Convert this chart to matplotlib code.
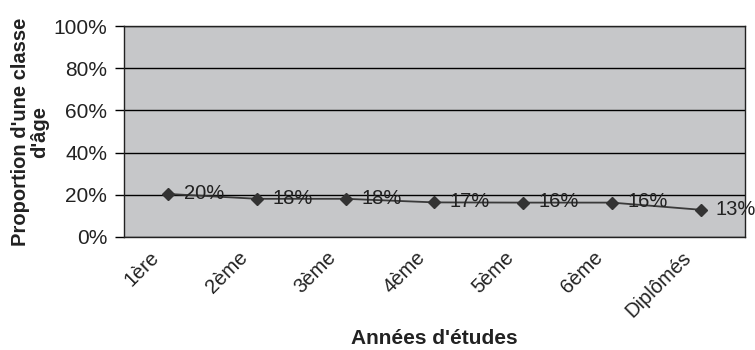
import matplotlib.pyplot as plt
from matplotlib.transforms import ScaledTranslation

plt.rcParams['font.family'] = ['Liberation Sans', 'DejaVu Sans']

categories = ["1ère", "2ème", "3ème", "4ème", "5ème", "6ème", "Diplômés"]
values = [20.4, 18.1, 18.1, 16.4, 16.3, 16.3, 12.9]
labels = ["20%", "18%", "18%", "17%", "16%", "16%", "13%"]
yticks = [0, 20, 40, 60, 80, 100]

fig = plt.figure(figsize=(7.55, 3.5), dpi=100)
ax = fig.add_axes([124 / 755, 113 / 350, 621 / 755, 211 / 350])
ax.set_facecolor('#c6c7c9')

x = list(range(len(categories)))
ax.plot(x, values, color='#3a3a3a', linewidth=1.3, marker='D', markersize=6.5,
        markerfacecolor='#333333', markeredgecolor='#333333', zorder=3)
for xi, v, lab in zip(x, values, labels):
    ax.annotate(lab, (xi, v), xytext=(11, 0.5), textcoords='offset points',
                va='center', fontsize=14.5, color='#222222', zorder=4,
                annotation_clip=False)

ax.set_xlim(-0.5, len(categories) - 0.5)
ax.set_ylim(0, 100)
ax.set_yticks(yticks)
ax.set_yticklabels([f"{t}%" for t in yticks], fontsize=15, color='#222222')
for t in yticks:
    ax.axhline(t, color='black', linewidth=1, zorder=1)

# category labels, rotated, drawn a little left of each category centre
ax.set_xticks(x)
ax.set_xticklabels([])
offset = ScaledTranslation(-19 / 100, -11 / 100, fig.dpi_scale_trans)
for xi, cat in zip(x, categories):
    ax.text(xi, 0, cat, transform=ax.get_xaxis_transform() + offset,
            rotation=45, ha='right', va='top', rotation_mode='anchor',
            fontsize=14.5, color='#222222')
ax.tick_params(axis='x', length=0)
ax.tick_params(axis='y', length=6.5, width=1, pad=5.5)

for s in ax.spines.values():
    s.set_color('#222222')
    s.set_linewidth(1)

ax.set_ylabel("Proportion d'une classe\nd'âge", fontsize=14.5, fontweight='bold',
              labelpad=3, color='#222222', linespacing=1.05)
ax.set_xlabel("Années d'études", fontsize=15, fontweight='bold', color='#222222')
ax.xaxis.set_label_coords(0.5, -(329 - 237) / 211)

fig.savefig('out.png', dpi=100)
